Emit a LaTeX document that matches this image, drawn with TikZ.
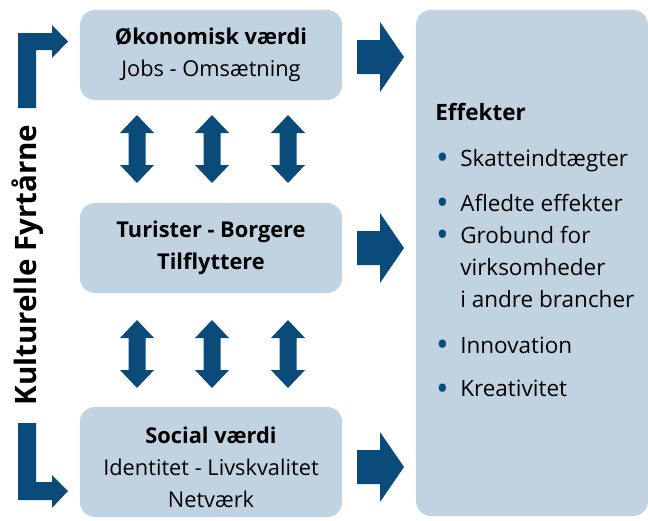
\documentclass[tikz,border=0pt]{standalone}
\usepackage{fontspec}
\setmainfont{Open Sans}
\usetikzlibrary{positioning}
\definecolor{fyrblue}{RGB}{10,75,121}
\definecolor{boxgray}{RGB}{193,210,224}
\tikzset{
  valuebox/.style={rounded corners=0.375cm, fill=boxgray, minimum width=6.55cm,
    align=center, inner sep=0pt, font=\fontsize{15.5}{22.8}\selectfont},
  fatarrow/.style={fill=fyrblue},
}
\newcommand{\rightfat}[1]{\fill[fatarrow,shift={(#1)}] (0,-17) -- (23,-17) -- (23,-35) -- (47,0) -- (23,35) -- (23,17) -- (0,17) -- cycle;}
\newcommand{\updownfat}[1]{\fill[fatarrow,shift={(#1)}] (0,-34) -- (17,-16) -- (8.5,-16) -- (8.5,16) -- (17,16) -- (0,34) -- (-17,16) -- (-8.5,16) -- (-8.5,-16) -- (-17,-16) -- cycle;}
\newcommand{\bul}{\makebox[0.625cm][l]{\hspace{0.02cm}\raisebox{-2.2pt}{\textcolor{fyrblue}{{\fontsize{24}{22.8}\selectfont\textbullet}}}}}
\begin{document}
\begin{tikzpicture}[x=0.025cm,y=-0.025cm,line cap=round]

  \useasboundingbox (0,0) rectangle (648,520);

  % the three value boxes
  \node [valuebox, minimum height=2.25cm] (oko) at (211,55)
    {\textbf{Økonomisk værdi}\\Jobs - Omsætning};
  \node [valuebox, minimum height=2.25cm] (turist) at (211,248)
    {\textbf{Turister - Borgere}\\\textbf{Tilflyttere}};
  \node [valuebox, minimum height=2.75cm] (social) at (211,462)
    {\\[-0.1cm]\textbf{Social værdi}\\Identitet - Livskvalitet\\Netværk};

  % effects
  \node [valuebox, minimum width=5.8cm, minimum height=12.65cm] (effekter) at (532,263) {};
  \node [anchor=north west, align=left, inner sep=0pt,
    font=\fontsize{16}{22.8}\selectfont] (effliste) at (435,103)
    {\textbf{Effekter}\\[0.35cm]
     \bul Skatteindtægter\\[0.325cm]
     \bul Afledte effekter\\
     \bul Grobund for\\
     \hspace*{0.625cm}virksomheder\\
     \hspace*{0.625cm}i andre brancher\\[0.35cm]
     \bul Innovation\\[0.275cm]
     \bul Kreativitet};

  % side title
  \node [rotate=90, inner sep=0pt, font=\bfseries\fontsize{21}{21}\selectfont] (fyr) at (28,265)
    {Kulturelle Fyrtårne};

  % arrows to the effects
  \coordinate (okoud) at (357,57);
  \coordinate (turistud) at (357,248);
  \coordinate (socialud) at (357,467);
  \rightfat{okoud}
  \rightfat{turistud}
  \rightfat{socialud}

  % arrows between the boxes
  \foreach \xx in {137,212,288} {
    \coordinate (op\xx) at (\xx,149);
    \coordinate (ned\xx) at (\xx,354);
    \updownfat{op\xx}
    \updownfat{ned\xx}
  }

  % bent arrows from the title
  \fill [fatarrow] (18,108) -- (18,33) -- (52,33) -- (52,25) -- (68,41.5)
    -- (52,58) -- (52,50) -- (36,50) -- (36,108) -- cycle;
  \fill [fatarrow] (18,423) -- (36,423) -- (36,482) -- (52,482) -- (52,475)
    -- (68,491) -- (52,508) -- (52,500) -- (18,500) -- cycle;

\end{tikzpicture}
\end{document}
